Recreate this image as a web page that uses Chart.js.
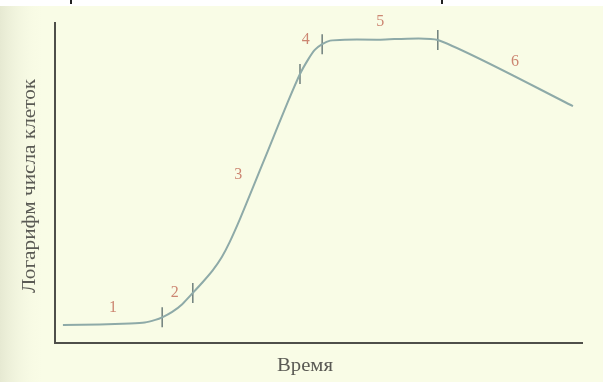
<!DOCTYPE html>
<html>
<head>
<meta charset="utf-8">
<script src="https://cdn.jsdelivr.net/npm/chart.js@4/dist/chart.umd.min.js"></script>
<style>
  html, body { margin: 0; padding: 0; background: #fff; }
  #wrap { position: relative; width: 603px; height: 382px; }
</style>
</head>
<body>
<div id="wrap"><canvas id="growthChart"></canvas></div>
<script>
// growth curve (time, log of cell count), arbitrary units
const timeValues = [0.15, 0.85, 1.42, 1.70, 1.90, 2.03, 2.22, 2.41, 2.61, 2.80, 2.99, 3.16, 3.31, 3.50, 3.73, 4.03, 4.41, 4.64, 4.79, 4.92, 5.06, 5.21, 5.49, 6.16, 7.25, 9.81];
const logCells   = [0.56, 0.58, 0.61, 0.64, 0.72, 0.80, 0.97, 1.21, 1.56, 1.90, 2.27, 2.68, 3.15, 3.85, 4.77, 5.98, 7.51, 8.38, 8.82, 9.13, 9.31, 9.42, 9.45, 9.45, 9.44, 7.38];

// boundaries between phases
const boundaryTimes = [2.03, 2.61, 4.64, 5.06, 7.25];
const boundaryLogs  = [0.80, 1.56, 8.38, 9.31, 9.44];

// phase numbers and where they sit
const phaseNames = ['1', '2', '3', '4', '5', '6'];
const phaseTimes = [1.10, 2.27, 3.47, 4.75, 6.16, 8.71];
const phaseLogs  = [1.09, 1.56, 5.23, 9.44, 10.0, 8.75];

const xTitle = 'Время';
const yTitle = 'Логарифм числа клеток';

const paperPlugin = {
  id: 'paper',
  beforeDraw(chart) {
    const ctx = chart.ctx;
    const w = chart.width, h = chart.height;
    ctx.save();
    ctx.fillStyle = '#f9fce6';
    ctx.fillRect(0, 0, w, h);
    const g = ctx.createLinearGradient(0, 0, 45, 0);
    g.addColorStop(0, '#e6e9d2');
    g.addColorStop(1, 'rgba(249,252,230,0)');
    ctx.fillStyle = g;
    ctx.fillRect(0, 6, 45, h);
    ctx.fillStyle = '#ffffff';
    ctx.fillRect(0, 0, w, 6);
    // bits of the line above, cut off
    ctx.fillStyle = '#222';
    ctx.fillRect(70, 0, 2, 4);
    ctx.fillRect(441, 0, 2, 4);
    ctx.restore();
  },
  afterDraw(chart) {
    const ctx = chart.ctx;
    const a = chart.chartArea;
    const xs = chart.scales.x, ys = chart.scales.y;
    ctx.save();
    // axes
    ctx.strokeStyle = '#4f4f4a';
    ctx.lineWidth = 2;
    ctx.beginPath();
    ctx.moveTo(a.left, a.top);
    ctx.lineTo(a.left, a.bottom);
    ctx.lineTo(a.right, a.bottom);
    ctx.stroke();

    // phase numbers
    ctx.fillStyle = '#cc8672';
    ctx.font = '16px "Liberation Serif", "DejaVu Serif", serif';
    ctx.textAlign = 'center';
    ctx.textBaseline = 'middle';
    phaseNames.forEach((n, i) => {
      ctx.fillText(n, xs.getPixelForValue(phaseTimes[i]), ys.getPixelForValue(phaseLogs[i]));
    });

    // axis titles (slightly wide face in the scan)
    ctx.fillStyle = '#5a5a54';
    ctx.font = '18px "Liberation Serif", "DejaVu Serif", serif';
    ctx.save();
    ctx.translate(305, 366);
    ctx.scale(1.15, 1);
    ctx.fillText(xTitle, 0, 0);
    ctx.restore();
    ctx.translate(30, 186);
    ctx.rotate(-Math.PI / 2);
    ctx.scale(1.18, 1);
    ctx.fillText(yTitle, 0, 0);
    ctx.restore();
  }
};

new Chart(document.getElementById('growthChart'), {
  type: 'scatter',
  data: {
    datasets: [{
      label: 'curve',
      data: timeValues.map((t, i) => ({ x: t, y: logCells[i] })),
      showLine: true,
      borderColor: '#8eaaa8',
      borderWidth: 2,
      pointRadius: 0,
      tension: 0.2
    }, {
      label: 'bounds',
      data: boundaryTimes.map((t, i) => ({ x: t, y: boundaryLogs[i] })),
      showLine: false,
      pointStyle: 'line',
      rotation: 90,
      pointRadius: 10,
      borderColor: '#6f7f7c',
      borderWidth: 1.5
    }]
  },
  options: {
    responsive: true,
    maintainAspectRatio: false,
    animation: false,
    layout: { padding: { left: 55, right: 20, top: 22, bottom: 39 } },
    scales: {
      x: { type: 'linear', min: 0, max: 10, display: false },
      y: { type: 'linear', min: 0, max: 10, display: false }
    },
    plugins: {
      legend: { display: false },
      tooltip: { enabled: false }
    }
  },
  plugins: [paperPlugin]
});
</script>
</body>
</html>
